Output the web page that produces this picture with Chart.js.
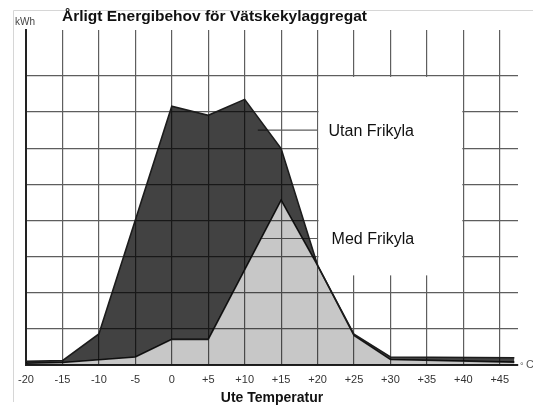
<!DOCTYPE html>
<html>
<head>
<meta charset="utf-8">
<script src="https://cdn.jsdelivr.net/npm/chart.js@4.4.0/dist/chart.umd.min.js"></script>
<style>
  html, body { margin: 0; padding: 0; background: #fff; }
  #chart_container { width: 533px; height: 407px; }
</style>
</head>
<body>
<div id="chart_container"><canvas id="energy_chart" width="533" height="407"></canvas></div>
<script>
// Values (kWh has no scale numbers, one grid step = 1)
let temp_ticks = [-20, -15, -10, -5, 0, 5, 10, 15, 20, 25, 30, 35, 40, 45];
let kwh_ticks = [0, 1, 2, 3, 4, 5, 6, 7, 8];
let utan_temp = [-20, -15, -10, 0, 5, 10, 15, 20, 25, 30, 47];
let utan_kwh = [0.1, 0.12, 0.86, 7.16, 6.91, 7.35, 5.99, 2.76, 0.85, 0.22, 0.2];
let med_temp = [-20, -15, -5, 0, 5, 15, 20, 25, 30, 47];
let med_kwh = [0.05, 0.07, 0.22, 0.71, 0.71, 4.56, 2.76, 0.82, 0.15, 0.08];
let series_names = ['Utan Frikyla', 'Med Frikyla'];
let chart_title = 'Årligt Energibehov för Vätskekylaggregat';
let x_title = 'Ute Temperatur';
let y_unit = 'kWh';
let x_unit = 'C';

function toPoints(xs, ys){
  let pts = [];
  for(let i = 0; i < xs.length; i++){
    pts.push({x: xs[i], y: ys[i]});
  }
  return pts;
}

let font_family = '"Liberation Sans", Arial, sans-serif';
let grid_color = '#5e5e5e';

let labelsPlugin = {
  id: 'scanLabels',
  beforeDraw(chart){
    let ctx = chart.ctx;
    // faint frame of the scanned page
    ctx.save();
    ctx.strokeStyle = '#d6d6d6';
    ctx.lineWidth = 1;
    ctx.beginPath();
    ctx.moveTo(13.5, 402);
    ctx.lineTo(13.5, 10.5);
    ctx.lineTo(533, 10.5);
    ctx.stroke();
    ctx.restore();
  },
  beforeDatasetsDraw(chart){
    let ctx = chart.ctx;
    let xs = chart.scales.x;
    let ys = chart.scales.y;
    // white legend box that hides the grid
    let left = xs.getPixelForValue(20) + 1;
    let right = xs.getPixelForValue(40) - 1;
    let top = ys.getPixelForValue(8) + 1;
    let bottom = ys.getPixelForValue(2.48);
    ctx.save();
    ctx.fillStyle = '#ffffff';
    ctx.fillRect(left, top, right - left, bottom - top);
    // leader lines
    ctx.strokeStyle = grid_color;
    ctx.lineWidth = 1.2;
    ctx.beginPath();
    ctx.moveTo(xs.getPixelForValue(11.8), ys.getPixelForValue(6.5));
    ctx.lineTo(xs.getPixelForValue(20), ys.getPixelForValue(6.5));
    ctx.moveTo(xs.getPixelForValue(12.1), ys.getPixelForValue(3.5));
    ctx.lineTo(xs.getPixelForValue(20), ys.getPixelForValue(3.5));
    ctx.stroke();
    ctx.restore();
  },
  afterDraw(chart){
    let ctx = chart.ctx;
    let xs = chart.scales.x;
    let ys = chart.scales.y;
    ctx.save();
    ctx.textBaseline = 'alphabetic';
    ctx.textAlign = 'left';
    ctx.fillStyle = '#111';
    ctx.font = 'bold 15.5px ' + font_family;
    ctx.fillText(chart_title, 62, 21);
    ctx.fillStyle = '#444';
    ctx.font = '10px ' + font_family;
    ctx.fillText(y_unit, 15, 25);
    ctx.fillStyle = '#111';
    ctx.font = '16px ' + font_family;
    ctx.fillText(series_names[0], xs.getPixelForValue(20) + 11, ys.getPixelForValue(6.5) + 5.5);
    ctx.fillText(series_names[1], xs.getPixelForValue(20) + 14, ys.getPixelForValue(3.5) + 5);
    ctx.fillStyle = '#555';
    ctx.font = '9px ' + font_family;
    ctx.fillText('°', 520, 369);
    ctx.font = '11px ' + font_family;
    ctx.fillText(x_unit, 526, 368);
    ctx.restore();
  }
};

let ctx = document.getElementById('energy_chart').getContext('2d');
let chart = new Chart(ctx, {
  type: 'line',
  data: {
    datasets: [{
      label: series_names[0],
      data: toPoints(utan_temp, utan_kwh),
      borderColor: '#1c1c1c',
      borderWidth: 1.6,
      backgroundColor: 'rgba(0, 0, 0, 0.74)',
      fill: '+1',
      pointRadius: 0,
      tension: 0
    }, {
      label: series_names[1],
      data: toPoints(med_temp, med_kwh),
      borderColor: '#1c1c1c',
      borderWidth: 1.6,
      backgroundColor: 'rgba(0, 0, 0, 0.22)',
      fill: 'origin',
      pointRadius: 0,
      tension: 0
    }]
  },
  options: {
    responsive: false,
    animation: false,
    layout: {
      padding: {top: 30, left: 26, right: 15, bottom: 0}
    },
    plugins: {
      legend: {display: false},
      tooltip: {enabled: false}
    },
    scales: {
      x: {
        type: 'linear',
        min: -20,
        max: 47.5,
        afterBuildTicks: function(scale){
          scale.ticks = temp_ticks.map(v => ({value: v}));
        },
        afterFit: function(scale){
          scale.height = 42;
        },
        grid: {color: grid_color, lineWidth: 1.2, drawTicks: false},
        border: {color: '#222', width: 2},
        ticks: {
          padding: 8,
          color: '#333',
          font: {family: font_family, size: 11},
          maxRotation: 0,
          callback: function(v){ return v > 0 ? '+' + v : String(v); }
        },
        title: {
          display: true,
          text: x_title,
          color: '#111',
          font: {family: font_family, size: 14, weight: 'bold'},
          padding: {top: 0, bottom: 0}
        }
      },
      y: {
        min: 0,
        max: 9.27,
        afterBuildTicks: function(scale){
          scale.ticks = kwh_ticks.map(v => ({value: v}));
        },
        afterFit: function(scale){
          scale.width = 0;
        },
        grid: {color: grid_color, lineWidth: 1.2, drawTicks: false},
        border: {color: '#222', width: 2},
        ticks: {display: false}
      }
    }
  },
  plugins: [labelsPlugin]
});
</script>
</body>
</html>
